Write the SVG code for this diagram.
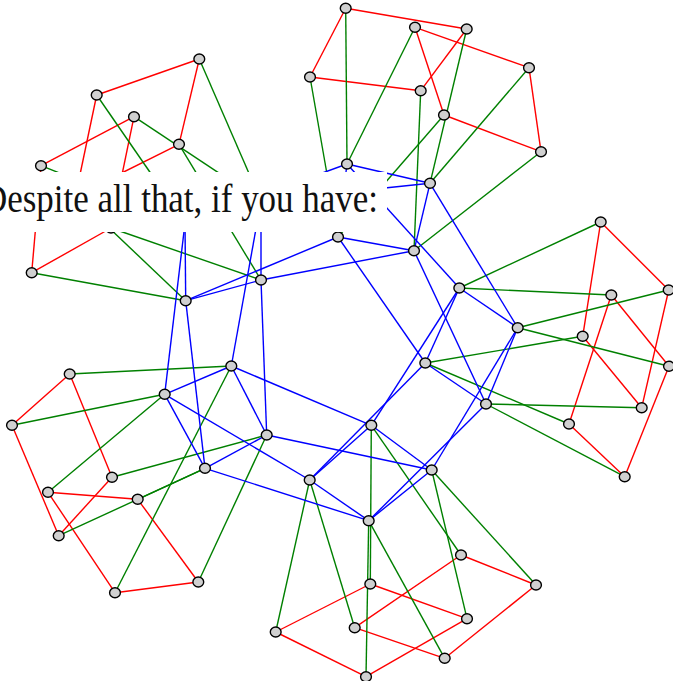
<svg xmlns="http://www.w3.org/2000/svg" width="673" height="681" viewBox="0 0 673 681">
<defs>
<style>
.r{stroke:#ff0000;stroke-width:1.4;fill:none}
.g{stroke:#008000;stroke-width:1.4;fill:none}
.b{stroke:#0000ff;stroke-width:1.4;fill:none}
.n ellipse{fill:#d0d0d0;stroke:#000;stroke-width:1.4}
.lbl{font-family:"Liberation Serif","Times New Roman",serif;font-size:40px;fill:#111}
</style>
</defs>
<rect width="673" height="681" fill="#fff"/>
<g id="connectors">
<g id="red">
<line class="r" x1="345.7" y1="8.3" x2="466.7" y2="29"/>
<line class="r" x1="466.7" y1="29" x2="420.7" y2="90.7"/>
<line class="r" x1="420.7" y1="90.7" x2="310" y2="77"/>
<line class="r" x1="310" y1="77" x2="345.7" y2="8.3"/>
<line class="r" x1="415" y1="27.3" x2="529" y2="67.7"/>
<line class="r" x1="529" y1="67.7" x2="541" y2="151.7"/>
<line class="r" x1="541" y1="151.7" x2="444" y2="115"/>
<line class="r" x1="444" y1="115" x2="415" y2="27.3"/>
<line class="r" x1="199.3" y1="59" x2="96.7" y2="95"/>
<line class="r" x1="96.7" y1="95" x2="75.5" y2="196"/>
<line class="r" x1="75.5" y1="196" x2="179" y2="144.3"/>
<line class="r" x1="179" y1="144.3" x2="199.3" y2="59"/>
<line class="r" x1="134" y1="116.7" x2="41" y2="165.7"/>
<line class="r" x1="41" y1="165.7" x2="31.7" y2="272.7"/>
<line class="r" x1="31.7" y1="272.7" x2="111" y2="228"/>
<line class="r" x1="111" y1="228" x2="134" y2="116.7"/>
<line class="r" x1="600.7" y1="222" x2="668.7" y2="290"/>
<line class="r" x1="668.7" y1="290" x2="641.7" y2="407.7"/>
<line class="r" x1="641.7" y1="407.7" x2="582.7" y2="336.3"/>
<line class="r" x1="582.7" y1="336.3" x2="600.7" y2="222"/>
<line class="r" x1="611.3" y1="295" x2="669" y2="366.3"/>
<line class="r" x1="669" y1="366.3" x2="624.7" y2="476.7"/>
<line class="r" x1="624.7" y1="476.7" x2="569" y2="424"/>
<line class="r" x1="569" y1="424" x2="611.3" y2="295"/>
<line class="r" x1="69.7" y1="374" x2="12" y2="425.3"/>
<line class="r" x1="12" y1="425.3" x2="58.7" y2="535.7"/>
<line class="r" x1="58.7" y1="535.7" x2="112" y2="477.3"/>
<line class="r" x1="112" y1="477.3" x2="69.7" y2="374"/>
<line class="r" x1="48" y1="492.3" x2="137.7" y2="499.3"/>
<line class="r" x1="137.7" y1="499.3" x2="198.3" y2="582"/>
<line class="r" x1="198.3" y1="582" x2="115" y2="592.7"/>
<line class="r" x1="115" y1="592.7" x2="48" y2="492.3"/>
<line class="r" x1="461" y1="555" x2="536" y2="585"/>
<line class="r" x1="536" y1="585" x2="444.7" y2="658.3"/>
<line class="r" x1="444.7" y1="658.3" x2="354.7" y2="627.7"/>
<line class="r" x1="354.7" y1="627.7" x2="461" y2="555"/>
<line class="r" x1="370.3" y1="584" x2="467" y2="618.7"/>
<line class="r" x1="467" y1="618.7" x2="366" y2="676.7"/>
<line class="r" x1="366" y1="676.7" x2="275.7" y2="632"/>
<line class="r" x1="275.7" y1="632" x2="370.3" y2="584"/>
</g>
<g id="green">
<line class="g" x1="345.7" y1="8.3" x2="347" y2="164"/>
<line class="g" x1="415" y1="27.3" x2="347" y2="164"/>
<line class="g" x1="466.7" y1="29" x2="430" y2="183.3"/>
<line class="g" x1="529" y1="67.7" x2="430" y2="183.3"/>
<line class="g" x1="420.7" y1="90.7" x2="414" y2="250.7"/>
<line class="g" x1="541" y1="151.7" x2="414" y2="250.7"/>
<line class="g" x1="310" y1="77" x2="338" y2="237"/>
<line class="g" x1="444" y1="115" x2="338" y2="237"/>
<line class="g" x1="199.3" y1="59" x2="261" y2="201"/>
<line class="g" x1="134" y1="116.7" x2="261" y2="201"/>
<line class="g" x1="96.7" y1="95" x2="185" y2="223"/>
<line class="g" x1="41" y1="165.7" x2="185" y2="223"/>
<line class="g" x1="179" y1="144.3" x2="261" y2="280"/>
<line class="g" x1="111" y1="228" x2="261" y2="280"/>
<line class="g" x1="75.5" y1="196" x2="185.7" y2="300.7"/>
<line class="g" x1="31.7" y1="272.7" x2="185.7" y2="300.7"/>
<line class="g" x1="600.7" y1="222" x2="459.3" y2="288"/>
<line class="g" x1="611.3" y1="295" x2="459.3" y2="288"/>
<line class="g" x1="668.7" y1="290" x2="517.7" y2="327.7"/>
<line class="g" x1="669" y1="366.3" x2="517.7" y2="327.7"/>
<line class="g" x1="582.7" y1="336.3" x2="425.3" y2="363"/>
<line class="g" x1="569" y1="424" x2="425.3" y2="363"/>
<line class="g" x1="641.7" y1="407.7" x2="486" y2="404"/>
<line class="g" x1="624.7" y1="476.7" x2="486" y2="404"/>
<line class="g" x1="69.7" y1="374" x2="231.3" y2="366"/>
<line class="g" x1="115" y1="592.7" x2="231.3" y2="366"/>
<line class="g" x1="12" y1="425.3" x2="164.7" y2="394.3"/>
<line class="g" x1="48" y1="492.3" x2="164.7" y2="394.3"/>
<line class="g" x1="112" y1="477.3" x2="266.7" y2="435"/>
<line class="g" x1="198.3" y1="582" x2="266.7" y2="435"/>
<line class="g" x1="137.7" y1="499.3" x2="205" y2="468.3"/>
<line class="g" x1="58.7" y1="535.7" x2="205" y2="468.3"/>
<line class="g" x1="461" y1="555" x2="371.3" y2="425.3"/>
<line class="g" x1="370.3" y1="584" x2="371.3" y2="425.3"/>
<line class="g" x1="536" y1="585" x2="431.7" y2="470"/>
<line class="g" x1="467" y1="618.7" x2="431.7" y2="470"/>
<line class="g" x1="444.7" y1="658.3" x2="368.7" y2="520.7"/>
<line class="g" x1="366" y1="676.7" x2="368.7" y2="520.7"/>
<line class="g" x1="275.7" y1="632" x2="309.7" y2="480"/>
<line class="g" x1="354.7" y1="627.7" x2="309.7" y2="480"/>
</g>
<g id="blue">
<line class="b" x1="347" y1="164" x2="430" y2="183.3"/>
<line class="b" x1="430" y1="183.3" x2="414" y2="250.7"/>
<line class="b" x1="414" y1="250.7" x2="338" y2="237"/>
<line class="b" x1="338" y1="237" x2="347" y2="164"/>
<line class="b" x1="185" y1="223" x2="261" y2="201"/>
<line class="b" x1="261" y1="201" x2="261" y2="280"/>
<line class="b" x1="261" y1="280" x2="185.7" y2="300.7"/>
<line class="b" x1="185.7" y1="300.7" x2="185" y2="223"/>
<line class="b" x1="231.3" y1="366" x2="266.7" y2="435"/>
<line class="b" x1="266.7" y1="435" x2="205" y2="468.3"/>
<line class="b" x1="205" y1="468.3" x2="164.7" y2="394.3"/>
<line class="b" x1="164.7" y1="394.3" x2="231.3" y2="366"/>
<line class="b" x1="371.3" y1="425.3" x2="431.7" y2="470"/>
<line class="b" x1="431.7" y1="470" x2="368.7" y2="520.7"/>
<line class="b" x1="368.7" y1="520.7" x2="309.7" y2="480"/>
<line class="b" x1="309.7" y1="480" x2="371.3" y2="425.3"/>
<line class="b" x1="459.3" y1="288" x2="517.7" y2="327.7"/>
<line class="b" x1="517.7" y1="327.7" x2="486" y2="404"/>
<line class="b" x1="486" y1="404" x2="425.3" y2="363"/>
<line class="b" x1="425.3" y1="363" x2="459.3" y2="288"/>
<line class="b" x1="347" y1="164" x2="185" y2="223"/>
<line class="b" x1="430" y1="183.3" x2="261" y2="201"/>
<line class="b" x1="338" y1="237" x2="185.7" y2="300.7"/>
<line class="b" x1="414" y1="250.7" x2="261" y2="280"/>
<line class="b" x1="185" y1="223" x2="164.7" y2="394.3"/>
<line class="b" x1="261" y1="201" x2="231.3" y2="366"/>
<line class="b" x1="261" y1="280" x2="266.7" y2="435"/>
<line class="b" x1="185.7" y1="300.7" x2="205" y2="468.3"/>
<line class="b" x1="231.3" y1="366" x2="371.3" y2="425.3"/>
<line class="b" x1="266.7" y1="435" x2="431.7" y2="470"/>
<line class="b" x1="164.7" y1="394.3" x2="309.7" y2="480"/>
<line class="b" x1="205" y1="468.3" x2="368.7" y2="520.7"/>
<line class="b" x1="371.3" y1="425.3" x2="459.3" y2="288"/>
<line class="b" x1="431.7" y1="470" x2="517.7" y2="327.7"/>
<line class="b" x1="309.7" y1="480" x2="425.3" y2="363"/>
<line class="b" x1="368.7" y1="520.7" x2="486" y2="404"/>
<line class="b" x1="459.3" y1="288" x2="347" y2="164"/>
<line class="b" x1="517.7" y1="327.7" x2="430" y2="183.3"/>
<line class="b" x1="425.3" y1="363" x2="338" y2="237"/>
<line class="b" x1="486" y1="404" x2="414" y2="250.7"/>
</g>
</g>
<g id="nodes" class="n">
<g id="T1"><ellipse cx="345.7" cy="8.3" rx="5.4" ry="5"/></g>
<g id="T2"><ellipse cx="415" cy="27.3" rx="5.4" ry="5"/></g>
<g id="T3"><ellipse cx="466.7" cy="29" rx="5.4" ry="5"/></g>
<g id="T4"><ellipse cx="310" cy="77" rx="5.4" ry="5"/></g>
<g id="T5"><ellipse cx="420.7" cy="90.7" rx="5.4" ry="5"/></g>
<g id="T6"><ellipse cx="529" cy="67.7" rx="5.4" ry="5"/></g>
<g id="T7"><ellipse cx="444" cy="115" rx="5.4" ry="5"/></g>
<g id="T8"><ellipse cx="541" cy="151.7" rx="5.4" ry="5"/></g>
<g id="A1"><ellipse cx="199.3" cy="59" rx="5.4" ry="5"/></g>
<g id="A2"><ellipse cx="96.7" cy="95" rx="5.4" ry="5"/></g>
<g id="A3"><ellipse cx="134" cy="116.7" rx="5.4" ry="5"/></g>
<g id="A4"><ellipse cx="179" cy="144.3" rx="5.4" ry="5"/></g>
<g id="A5"><ellipse cx="41" cy="165.7" rx="5.4" ry="5"/></g>
<g id="A6"><ellipse cx="111" cy="228" rx="5.4" ry="5"/></g>
<g id="A7"><ellipse cx="31.7" cy="272.7" rx="5.4" ry="5"/></g>
<g id="R1"><ellipse cx="600.7" cy="222" rx="5.4" ry="5"/></g>
<g id="R2"><ellipse cx="668.7" cy="290" rx="5.4" ry="5"/></g>
<g id="R3"><ellipse cx="611.3" cy="295" rx="5.4" ry="5"/></g>
<g id="R4"><ellipse cx="582.7" cy="336.3" rx="5.4" ry="5"/></g>
<g id="R5"><ellipse cx="669" cy="366.3" rx="5.4" ry="5"/></g>
<g id="R6"><ellipse cx="641.7" cy="407.7" rx="5.4" ry="5"/></g>
<g id="R7"><ellipse cx="569" cy="424" rx="5.4" ry="5"/></g>
<g id="R8"><ellipse cx="624.7" cy="476.7" rx="5.4" ry="5"/></g>
<g id="L1"><ellipse cx="69.7" cy="374" rx="5.4" ry="5"/></g>
<g id="L2"><ellipse cx="12" cy="425.3" rx="5.4" ry="5"/></g>
<g id="L3"><ellipse cx="112" cy="477.3" rx="5.4" ry="5"/></g>
<g id="L4"><ellipse cx="48" cy="492.3" rx="5.4" ry="5"/></g>
<g id="L5"><ellipse cx="137.7" cy="499.3" rx="5.4" ry="5"/></g>
<g id="L6"><ellipse cx="58.7" cy="535.7" rx="5.4" ry="5"/></g>
<g id="L7"><ellipse cx="115" cy="592.7" rx="5.4" ry="5"/></g>
<g id="L8"><ellipse cx="198.3" cy="582" rx="5.4" ry="5"/></g>
<g id="B1"><ellipse cx="461" cy="555" rx="5.4" ry="5"/></g>
<g id="B2"><ellipse cx="536" cy="585" rx="5.4" ry="5"/></g>
<g id="B3"><ellipse cx="370.3" cy="584" rx="5.4" ry="5"/></g>
<g id="B4"><ellipse cx="275.7" cy="632" rx="5.4" ry="5"/></g>
<g id="B5"><ellipse cx="354.7" cy="627.7" rx="5.4" ry="5"/></g>
<g id="B6"><ellipse cx="467" cy="618.7" rx="5.4" ry="5"/></g>
<g id="B7"><ellipse cx="444.7" cy="658.3" rx="5.4" ry="5"/></g>
<g id="B8"><ellipse cx="366" cy="676.7" rx="5.4" ry="5"/></g>
<g id="I1"><ellipse cx="347" cy="164" rx="5.4" ry="5"/></g>
<g id="I2"><ellipse cx="430" cy="183.3" rx="5.4" ry="5"/></g>
<g id="I3"><ellipse cx="338" cy="237" rx="5.4" ry="5"/></g>
<g id="I4"><ellipse cx="414" cy="250.7" rx="5.4" ry="5"/></g>
<g id="I5"><ellipse cx="261" cy="280" rx="5.4" ry="5"/></g>
<g id="I6"><ellipse cx="185.7" cy="300.7" rx="5.4" ry="5"/></g>
<g id="I7"><ellipse cx="459.3" cy="288" rx="5.4" ry="5"/></g>
<g id="I8"><ellipse cx="517.7" cy="327.7" rx="5.4" ry="5"/></g>
<g id="I9"><ellipse cx="425.3" cy="363" rx="5.4" ry="5"/></g>
<g id="I10"><ellipse cx="486" cy="404" rx="5.4" ry="5"/></g>
<g id="I11"><ellipse cx="431.7" cy="470" rx="5.4" ry="5"/></g>
<g id="I12"><ellipse cx="371.3" cy="425.3" rx="5.4" ry="5"/></g>
<g id="I13"><ellipse cx="309.7" cy="480" rx="5.4" ry="5"/></g>
<g id="I14"><ellipse cx="368.7" cy="520.7" rx="5.4" ry="5"/></g>
<g id="I15"><ellipse cx="266.7" cy="435" rx="5.4" ry="5"/></g>
<g id="I16"><ellipse cx="231.3" cy="366" rx="5.4" ry="5"/></g>
<g id="I17"><ellipse cx="164.7" cy="394.3" rx="5.4" ry="5"/></g>
<g id="I18"><ellipse cx="205" cy="468.3" rx="5.4" ry="5"/></g>
</g>
<g id="caption">
<rect x="-10" y="172" width="397" height="60" fill="#fff"/>
<text class="lbl" x="-18" y="212" textLength="396" lengthAdjust="spacingAndGlyphs">Despite all that, if you have:</text>
</g>
</svg>
